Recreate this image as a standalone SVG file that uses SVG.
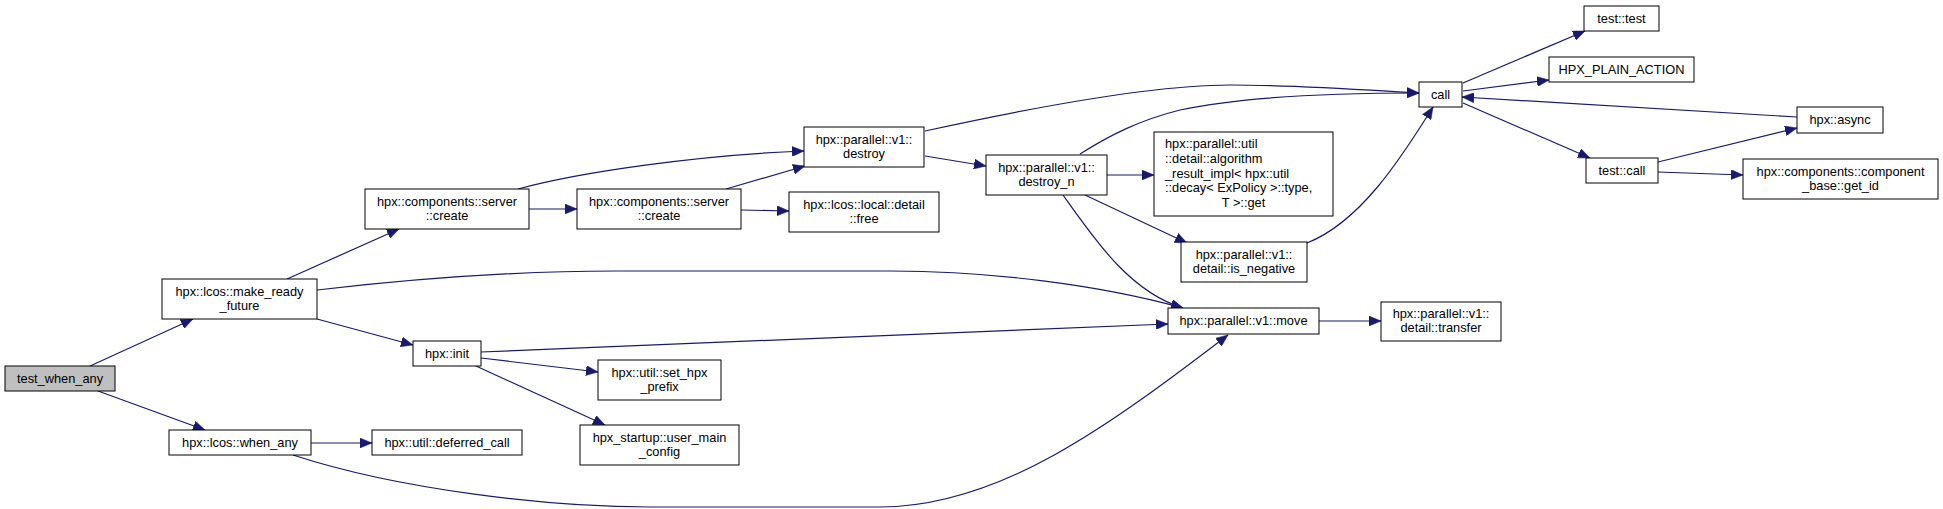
<svg xmlns="http://www.w3.org/2000/svg" width="1943" height="509" viewBox="0 0 1943 509">
<style>
.n rect{fill:#fff;stroke:#000;stroke-width:1}
.n text{font-family:"Liberation Sans",Arial,sans-serif;font-size:12.8px;fill:#000;text-anchor:middle}
.n text.l{text-anchor:start}
.e path{fill:none;stroke:#191970;stroke-width:1.2;marker-end:url(#ah)}
</style>
<defs>
<marker id="ah" markerUnits="userSpaceOnUse" markerWidth="13" markerHeight="10" refX="12" refY="5" orient="auto" viewBox="0 0 13 10">
<path d="M0,0 L12,5 L0,10 Z" fill="#191970" stroke="#191970" stroke-width="0.5"/>
</marker>
</defs>
<rect x="0" y="0" width="1943" height="509" fill="#fff"/>
<g id="edges" class="e">
<path d="M90,366 L193,319"/>
<path d="M98,391 L205,430"/>
<path d="M287,279 L399,229"/>
<path d="M317,290 C420,278 520,271 616,271 L891,271 C990,271 1100,285 1183,308"/>
<path d="M317,319 L413,345"/>
<path d="M529,209 L577,209"/>
<path d="M518,189 C580,172 700,155 804,151"/>
<path d="M726,189 L805,166"/>
<path d="M741,210 L789,211"/>
<path d="M925,131 C1030,108 1150,85 1230,85 C1300,85 1380,91 1419,93"/>
<path d="M925,156 L986,166"/>
<path d="M1080,154 C1110,135 1140,120 1180,110 C1250,95 1350,93 1419,93"/>
<path d="M1107,175 L1154,175"/>
<path d="M1085,195 L1187,243"/>
<path d="M1063,195 C1095,240 1130,292 1183,308"/>
<path d="M1307,243 C1360,222 1400,160 1433,107"/>
<path d="M481,352 L1168,324"/>
<path d="M481,358 L598,372"/>
<path d="M476,366 L605,425"/>
<path d="M311,443 L372,443"/>
<path d="M293,455 C400,490 550,507 650,507 L880,507 C1000,507 1110,425 1228,335"/>
<path d="M1319,321 L1381,321"/>
<path d="M1463,83 L1585,31"/>
<path d="M1463,91 L1549,80"/>
<path d="M1463,103 L1590,158"/>
<path d="M1797,117 L1462,97"/>
<path d="M1658,162 L1797,128"/>
<path d="M1658,172 L1743,175"/>
</g>
<g id="test_when_any" class="n"><rect x="5" y="366" width="110" height="25" style="fill:#bfbfbf"/><text x="60" y="382.5">test_when_any</text></g>
<g id="make_ready_future" class="n"><rect x="162" y="279" width="155" height="40"/><text x="239.5" y="295.5">hpx::lcos::make_ready</text><text x="239.5" y="309.5">_future</text></g>
<g id="when_any" class="n"><rect x="169" y="430" width="142" height="25"/><text x="240" y="446.5">hpx::lcos::when_any</text></g>
<g id="deferred_call" class="n"><rect x="372" y="430" width="150" height="25"/><text x="447" y="446.5">hpx::util::deferred_call</text></g>
<g id="server_create_1" class="n"><rect x="365" y="189" width="164" height="40"/><text x="447" y="205.5">hpx::components::server</text><text x="447" y="219.5">::create</text></g>
<g id="server_create_2" class="n"><rect x="577" y="189" width="164" height="40"/><text x="659" y="205.5">hpx::components::server</text><text x="659" y="219.5">::create</text></g>
<g id="init" class="n"><rect x="413" y="341" width="68" height="25"/><text x="447" y="357.5">hpx::init</text></g>
<g id="set_hpx_prefix" class="n"><rect x="598" y="360" width="123" height="40"/><text x="659.5" y="376.5">hpx::util::set_hpx</text><text x="659.5" y="390.5">_prefix</text></g>
<g id="user_main_config" class="n"><rect x="580" y="425" width="159" height="40"/><text x="659.5" y="441.5">hpx_startup::user_main</text><text x="659.5" y="455.5">_config</text></g>
<g id="destroy" class="n"><rect x="804" y="127" width="120" height="40"/><text x="864" y="143.5">hpx::parallel::v1::</text><text x="864" y="157.5">destroy</text></g>
<g id="free" class="n"><rect x="789" y="192" width="150" height="40"/><text x="864" y="208.5">hpx::lcos::local::detail</text><text x="864" y="222.5">::free</text></g>
<g id="destroy_n" class="n"><rect x="986" y="155" width="121" height="40"/><text x="1046.5" y="171.5">hpx::parallel::v1::</text><text x="1046.5" y="185.5">destroy_n</text></g>
<g id="algorithm_result_get" class="n"><rect x="1154" y="132" width="179" height="84"/><text class="l" x="1165" y="148">hpx::parallel::util</text><text class="l" x="1165" y="162.75">::detail::algorithm</text><text class="l" x="1165" y="177.5">_result_impl&lt; hpx::util</text><text class="l" x="1165" y="192.25">::decay&lt; ExPolicy &gt;::type,</text><text x="1243.5" y="207">T &gt;::get</text></g>
<g id="is_negative" class="n"><rect x="1181" y="242" width="126" height="40"/><text x="1244" y="258.5">hpx::parallel::v1::</text><text x="1244" y="272.5">detail::is_negative</text></g>
<g id="move" class="n"><rect x="1168" y="308" width="151" height="26"/><text x="1243.5" y="325">hpx::parallel::v1::move</text></g>
<g id="transfer" class="n"><rect x="1381" y="302" width="120" height="39"/><text x="1441" y="318">hpx::parallel::v1::</text><text x="1441" y="332">detail::transfer</text></g>
<g id="call" class="n"><rect x="1419" y="82" width="43" height="25"/><text x="1440.5" y="98.5">call</text></g>
<g id="test_test" class="n"><rect x="1584" y="6" width="75" height="25"/><text x="1621.5" y="22.5">test::test</text></g>
<g id="hpx_plain_action" class="n"><rect x="1549" y="57" width="145" height="25"/><text x="1621.5" y="73.5">HPX_PLAIN_ACTION</text></g>
<g id="test_call" class="n"><rect x="1586" y="158" width="72" height="25"/><text x="1622" y="174.5">test::call</text></g>
<g id="async" class="n"><rect x="1797" y="107" width="86" height="26"/><text x="1840" y="124">hpx::async</text></g>
<g id="get_id" class="n"><rect x="1743" y="159" width="195" height="40"/><text x="1840.5" y="175.5">hpx::components::component</text><text x="1840.5" y="189.5">_base::get_id</text></g>
</svg>
